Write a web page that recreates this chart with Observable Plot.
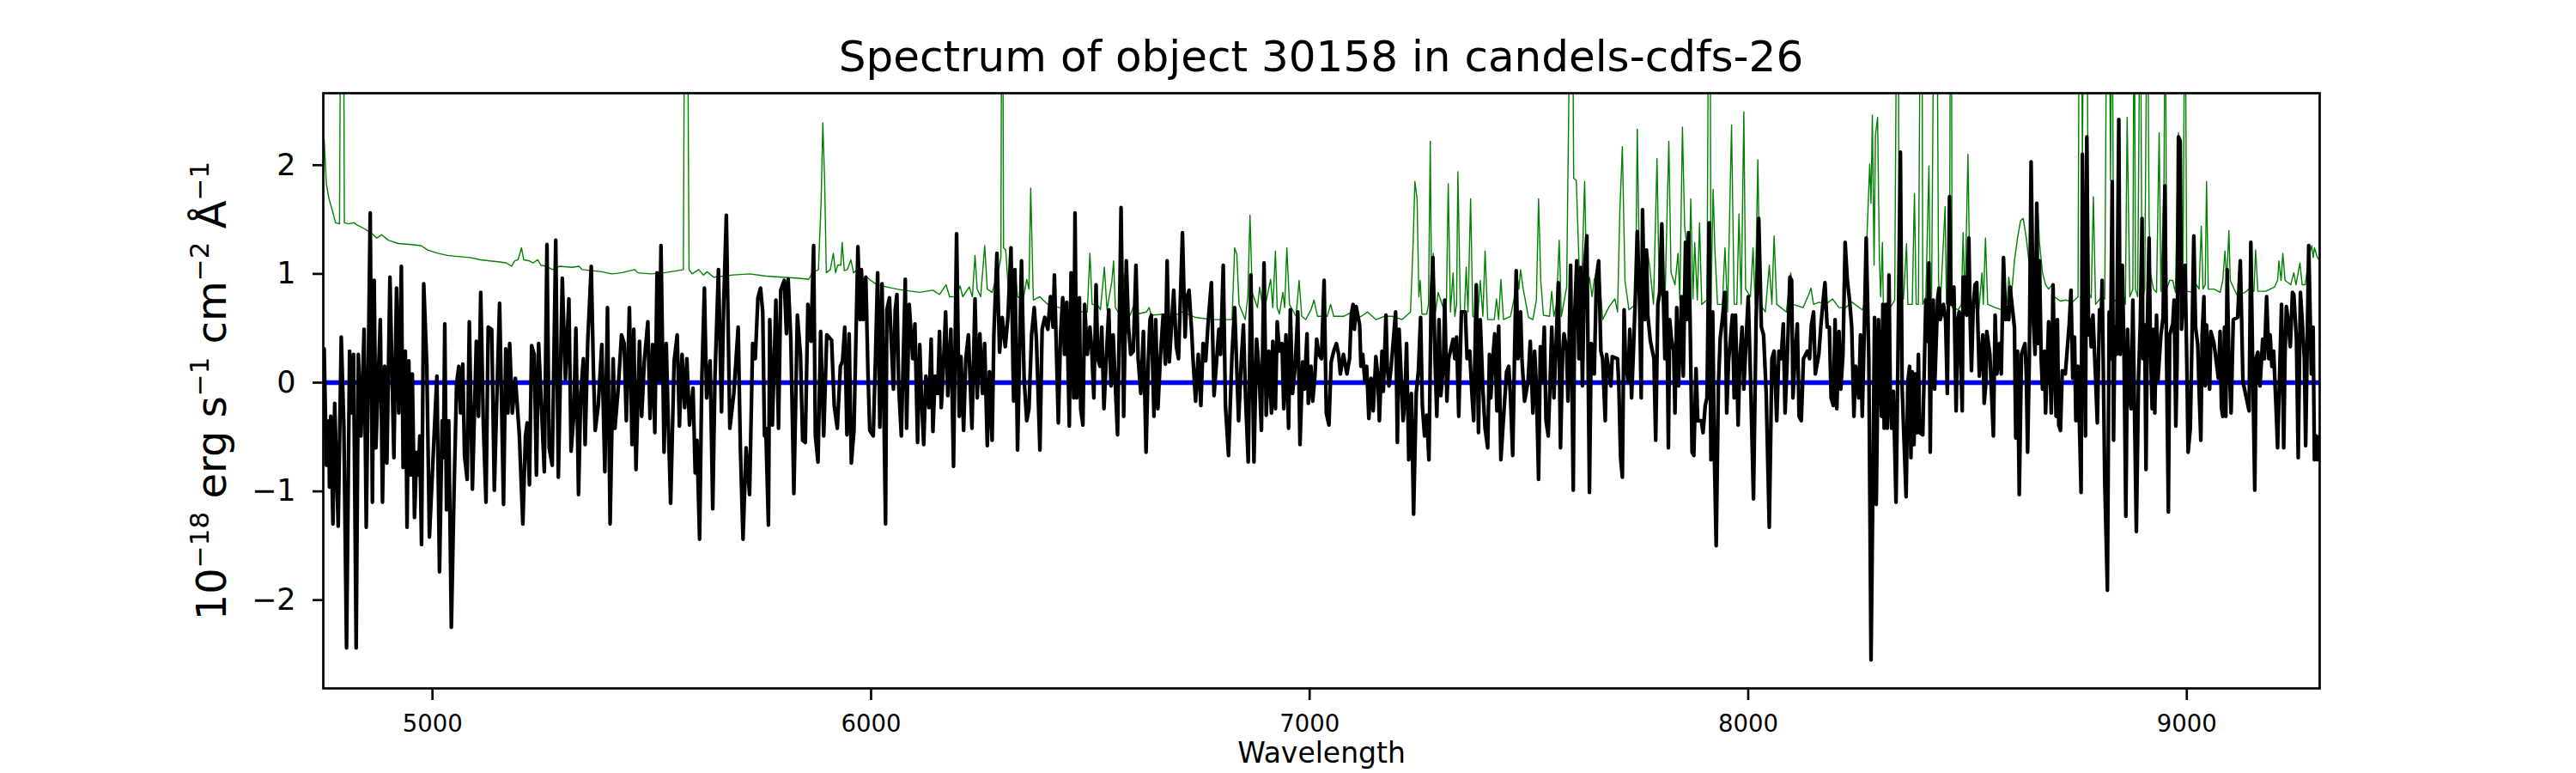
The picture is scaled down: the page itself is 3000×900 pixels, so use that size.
<!DOCTYPE html>
<html><head><meta charset="utf-8">
<script src="https://cdn.jsdelivr.net/npm/d3@7"></script>
<script src="https://cdn.jsdelivr.net/npm/@observablehq/plot@0.6"></script>
<style>
html,body{margin:0;padding:0;background:#fff;}
#fig{position:relative;width:3000px;height:900px;font-family:"DejaVu Sans";overflow:hidden;}
#title{position:absolute;left:376px;width:2325px;top:41px;text-align:center;font-size:50px;line-height:50px;color:#000;white-space:nowrap;}
#chart{position:absolute;left:0;top:0;}
</style></head><body>
<div id="fig"><div id="chart"></div><div id="title">Spectrum of object 30158 in candels-cdfs-26</div></div>
<script>
// ---- data: [wavelength (Å), flux (1e-18 erg/s/cm2/Å)] ----
const xTicks = [5000, 6000, 7000, 8000, 9000];
const yTicks = [-2, -1, 0, 1, 2];
const modelLevel = [0];

const blackA = [[4753,0.31],[4758,-0.76],[4764,-0.35],[4765,-0.96],[4768,-0.31],[4773,-1.30],[4777,-0.19],[4785,-1.32],[4792,0.42],[4798,-0.42],[4804,-2.44],[4811,0.29],[4816,-0.28],[4820,0.26],[4826,-2.44],[4831,0.26],[4837,-0.49],[4844,0.49],[4849,-1.33],[4858,1.56],[4863,-1.10],[4867,0.94],[4871,-0.60],[4881,0.58],[4886,-1.10],[4891,0.15],[4896,-0.74],[4903,0.97],[4912,-0.69],[4918,0.87],[4923,-0.28],[4929,1.07],[4933,-0.78],[4938,0.29],[4942,-1.33],[4946,0.20],[4950,-0.85],[4954,0.08],[4959,-1.24],[4964,-0.64],[4968,-0.85],[4971,-0.49],[4975,-1.49],[4980,0.91],[4987,0.17],[4993,-1.42],[5010,0.06],[5016,-1.74],[5022,-0.35],[5025,-0.69],[5028,0.54],[5032,-1.17],[5037,-0.35],[5043,-2.25],[5049,-1.03],[5055,-0.01],[5060,0.15],[5064,-0.28],[5069,0.17],[5073,-0.67],[5079,-0.89],[5084,0.56],[5091,-0.98],[5100,0.38],[5105,-0.31],[5110,0.83],[5116,-0.39],[5122,-1.10],[5127,0.51],[5135,0.49],[5141,-0.99],[5146,-0.24],[5153,0.73],[5162,-1.12],[5167,0.31],[5172,-0.28],[5176,0.36],[5182,-0.28],[5189,0.04],[5198,-0.48],[5206,-1.30],[5212,-0.49],[5216,-0.37],[5221,-0.94],[5226,0.34],[5232,0.26],[5237,-0.85],[5242,0.36],[5249,-0.28],[5255,-0.82],[5261,1.27],[5266,-0.60],[5273,-0.76],[5281,1.31],[5287,-0.87],[5296,0.96],[5303,0.03],[5311,0.77],[5316,-0.63],[5322,-0.31],[5327,0.50],[5333,-1.03],[5338,-0.10],[5344,0.22],[5348,-0.57],[5354,0.38],[5362,1.07],[5367,0.10],[5371,-0.44],[5378,-0.21],[5386,0.35],[5393,-0.82],[5399,0.69],[5405,-1.30],[5412,0.22],[5416,-0.42],[5423,-0.08],[5431,0.44],[5437,0.36],[5442,-0.35],[5449,0.69],[5455,-0.57],[5459,0.49],[5464,-0.80],[5472,0.38],[5477,-0.31],[5483,0.20],[5491,0.56],[5496,-0.33],[5502,0.35],[5507,-0.46],[5512,1.01],[5517,0.01],[5521,1.26],[5528,-0.64],[5533,0.36],[5537,-0.28],[5543,-1.11],[5551,0.20],[5558,0.44],[5563,-0.40],[5569,0.26],[5575,-0.23],[5580,0.22],[5586,-0.39],[5594,-0.05],[5599,-0.83],[5603,-0.53],[5609,-1.44],[5614,0.01],[5620,0.87],[5625,-0.14],[5633,0.20],[5639,-1.16],[5644,0.04],[5652,1.04],[5659,-0.27],[5664,0.72],[5670,1.54],[5678,-0.42],[5687,-0.10],[5697,0.51],[5702,-0.60],[5708,-1.44],[5715,-0.60],[5723,-1.03],[5730,0.36],[5736,0.22],[5742,0.78],[5748,0.87],[5753,0.65],[5757,-0.49],[5760,-0.42],[5766,-1.31],[5769,0.58],[5775,-0.39],[5783,0.76],[5789,-0.42],[5794,0.85],[5802,0.94],[5807,0.45],[5811,0.95],[5817,0.40],[5824,-1.02],[5832,0.62],[5839,0.26],[5844,-0.53],[5850,-0.55],[5856,0.72],[5863,0.38],[5869,1.26],[5873,-0.49],[5879,-0.73],[5885,0.47],[5892,-0.49],[5899,0.44],[5910,0.39],[5916,-0.21],[5923,-0.42]];

const blackB = [[5930,0.15],[5935,0.20],[5940,0.51],[5945,-0.48],[5950,0.45],[5955,-0.74],[5961,-0.44],[5970,1.25],[5975,0.58],[5978,1.04],[5982,0.58],[5988,0.97],[5993,0.08],[5997,-0.44],[6005,-0.49],[6010,0.22],[6015,1.01],[6020,-0.41],[6025,0.91],[6033,-1.30],[6036,0.67],[6042,0.78],[6046,0.38],[6051,-0.06],[6055,0.67],[6059,0.81],[6063,-0.03],[6069,-0.49],[6078,0.95],[6081,-0.42],[6087,0.72],[6095,0.22],[6100,0.54],[6106,-0.55],[6111,0.35],[6115,-0.14],[6120,-0.57],[6125,0.06],[6132,-0.23],[6137,0.40],[6141,-0.45],[6146,0.06],[6152,-0.10],[6156,0.47],[6160,-0.23],[6164,0.06],[6170,0.65],[6175,-0.12],[6182,0.49],[6188,-0.77],[6195,1.37],[6201,-0.31],[6205,0.24],[6211,-0.44],[6216,0.22],[6222,0.44],[6230,-0.42],[6237,0.77],[6242,-0.14],[6248,0.45],[6254,-0.10],[6259,0.36],[6265,-0.58],[6270,0.10],[6276,-0.53],[6280,0.44],[6287,1.19],[6293,0.28],[6299,0.60],[6306,0.33],[6312,0.60],[6319,1.24],[6325,-0.17],[6328,1.04],[6334,-0.62],[6340,0.56],[6343,1.12],[6349,0.03],[6355,-0.35],[6360,-0.24],[6366,0.44],[6372,0.69],[6377,0.40],[6385,-0.62],[6390,0.49],[6396,0.60],[6403,0.49],[6409,0.79],[6415,0.51],[6418,0.99],[6427,-0.37],[6432,0.44],[6437,0.78],[6441,0.26],[6446,0.74],[6452,-0.40],[6456,1.01],[6462,-0.14],[6465,1.56],[6469,-0.14],[6475,0.78],[6478,-0.24],[6483,-0.39],[6487,0.72],[6493,0.26],[6499,0.51],[6503,0.31],[6508,-0.14],[6513,0.90],[6517,0.22],[6522,0.15],[6526,0.51],[6531,-0.24],[6537,0.28],[6542,0.67],[6547,-0.03],[6552,0.44],[6557,-0.03],[6562,-0.48],[6567,0.79],[6570,1.61],[6576,-0.31],[6582,1.12],[6587,0.51],[6592,0.26],[6598,0.29],[6604,1.08],[6609,0.22],[6615,-0.10],[6621,0.47],[6627,-0.64],[6632,0.19],[6636,0.58],[6639,0.62],[6645,-0.31],[6649,0.58],[6654,-0.24],[6660,0.26],[6666,0.62],[6671,0.17],[6675,1.12],[6680,0.19],[6690,0.85],[6696,0.33],[6701,0.22],[6710,1.38],[6716,0.42],[6720,0.78],[6725,0.85],[6731,0.47],[6734,0.22],[6740,-0.17],[6746,0.26],[6752,-0.21],[6757,0.36],[6763,0.20],[6769,0.58],[6776,0.92],[6782,-0.12],[6793,0.49],[6797,0.26],[6803,1.08],[6808,-0.21],[6815,-0.67],[6823,0.26],[6829,0.69],[6838,-0.35],[6844,0.19],[6849,0.53],[6854,-0.15],[6860,-0.73],[6866,0.99],[6873,-0.73],[6879,0.40],[6884,0.15],[6890,-0.44],[6896,1.10],[6901,-0.30],[6907,0.29],[6913,-0.28],[6916,0.38],[6922,-0.24],[6926,0.56],[6931,0.29],[6937,0.36],[6941,-0.24],[6946,0.44],[6952,-0.42],[6956,0.67],[6961,-0.10],[6967,0.15],[6973,0.65],[6978,-0.57],[6984,0.19],[6988,-0.06],[6994,0.45],[6997,-0.19],[7003,0.15],[7007,-0.17],[7012,0.06],[7016,0.40],[7021,0.26],[7027,0.22],[7033,0.94],[7038,-0.28],[7044,-0.39],[7049,0.19],[7055,0.29],[7061,0.36],[7066,0.26],[7070,0.08],[7077,0.26],[7085,0.08],[7091,0.22],[7095,0.63]];

const blackC = [[7099,0.72],[7102,0.49],[7106,0.70],[7114,0.53],[7117,0.15],[7121,0.26],[7126,0.01],[7130,0.15],[7135,-0.33],[7140,0.04],[7145,-0.26],[7151,0.24],[7155,0.08],[7159,-0.35],[7165,0.29],[7168,-0.08],[7174,0.62],[7177,0.15],[7181,-0.03],[7186,0.15],[7196,0.65],[7200,-0.55],[7204,0.49],[7213,-0.35],[7217,-0.17],[7221,0.36],[7226,-0.71],[7232,-0.10],[7237,-1.21],[7243,-0.10],[7248,0.11],[7253,0.60],[7257,-0.21],[7262,-0.49],[7267,-0.30],[7272,-0.71],[7277,0.76],[7281,1.15],[7286,0.20],[7290,-0.31],[7295,0.58],[7299,-0.12],[7305,0.15],[7308,0.76],[7313,-0.17],[7317,0.22],[7327,0.40],[7331,0.22],[7335,0.42],[7340,-0.31],[7346,0.65],[7355,0.65],[7359,0.22],[7365,0.29],[7370,-0.10],[7374,-0.35],[7380,0.90],[7385,-0.46],[7389,0.58],[7395,-0.06],[7400,-0.42],[7406,-0.60],[7410,0.26],[7413,-0.14],[7419,0.29],[7422,0.45],[7427,-0.26],[7431,0.52],[7436,-0.71],[7441,-0.39],[7449,0.10],[7454,0.15],[7458,-0.14],[7463,-0.67],[7467,0.22],[7471,1.03],[7475,0.22],[7481,0.65],[7484,0.22],[7490,-0.17],[7498,0.01],[7503,0.38],[7509,-0.28],[7513,0.29],[7517,-0.03],[7522,-0.89],[7526,0.33],[7530,0.01],[7535,0.51],[7539,-0.35],[7544,-0.49],[7548,-0.03],[7552,0.51],[7557,-0.14],[7562,0.36],[7567,0.92],[7572,-0.60],[7577,0.29],[7580,0.45],[7586,0.29],[7589,-0.17],[7595,1.08],[7601,-0.99],[7604,0.58],[7609,1.12],[7614,0.22],[7618,1.06],[7622,-0.03],[7627,1.08],[7632,1.35],[7638,-1.01],[7642,0.36],[7649,0.08],[7654,0.97],[7659,1.12],[7664,0.29],[7668,0.22],[7674,-0.35],[7677,0.26],[7687,-0.03],[7690,0.24],[7702,0.22],[7705,-0.03],[7709,-0.69],[7713,-0.87],[7717,0.67],[7720,0.22],[7726,0.01],[7730,0.49],[7734,-0.14],[7738,0.26],[7743,0.83],[7747,1.39],[7752,0.79],[7756,-0.14],[7759,1.59],[7764,0.58],[7768,1.22],[7771,0.62],[7777,0.38],[7785,0.22],[7789,-0.53],[7794,0.72],[7798,0.83],[7803,1.46],[7807,0.72],[7810,0.22],[7814,0.83],[7818,-0.60],[7821,0.58],[7825,0.40],[7830,0.29],[7833,-0.28],[7837,0.69],[7841,-0.03],[7845,0.40],[7848,0.79],[7852,0.06],[7857,1.29],[7860,0.58],[7864,1.38],[7868,0.44],[7872,-0.64],[7876,-0.67],[7881,0.13],[7885,-0.35],[7893,-0.35],[7897,-0.46],[7902,-0.21],[7906,-0.14],[7911,1.47],[7915,-0.71],[7919,0.65],[7923,-0.71],[7927,-1.50],[7932,-0.03],[7936,0.40],[7941,0.58],[7947,0.83],[7951,-0.28],[7955,0.19],[7964,0.62],[7968,-0.14],[7971,0.62],[7977,-0.39],[7981,0.22],[7986,0.51],[7990,-0.06],[7994,0.29],[8000,0.79],[8005,0.08],[8012,-1.07],[8018,0.58],[8024,1.51],[8030,0.51],[8035,0.44],[8041,-0.10],[8048,-1.33],[8054,0.22],[8059,0.29],[8065,-0.35],[8070,0.29],[8075,0.22],[8080,0.54],[8084,-0.28],[8089,0.22],[8095,0.97],[8099,0.94],[8102,-0.14],[8108,0.33],[8112,0.54],[8116,-0.31],[8121,-0.35],[8126,0.22],[8135,0.29],[8140,0.22],[8144,0.53],[8149,0.65],[8153,0.08],[8161,0.26],[8166,0.54],[8171,0.76],[8175,0.92],[8180,0.51],[8185,0.51],[8189,-0.14],[8194,-0.21],[8198,0.58],[8202,-0.24],[8207,0.47],[8211,-0.06],[8216,0.26],[8221,1.29],[8226,0.94],[8231,0.76],[8236,0.51],[8241,-0.31],[8245,0.15],[8252,-0.14],[8256,0.44],[8260,-0.31],[8264,0.36],[8269,1.33]];

const blackD = [[8275,0.22],[8280,-2.55],[8285,-0.67],[8288,0.60],[8292,-1.12],[8297,0.58],[8304,-0.31],[8307,0.72],[8310,-0.42],[8314,0.72],[8317,-0.42],[8321,0.99],[8324,-0.14],[8327,-0.42],[8331,-0.08],[8337,-1.10],[8341,0.10],[8347,2.12],[8351,-0.06],[8360,-1.05],[8364,0.01],[8368,0.15],[8371,-0.69],[8374,0.10],[8378,-0.57],[8381,0.08],[8385,-0.46],[8388,0.26],[8391,-0.46],[8398,-0.48],[8405,0.76],[8408,0.38],[8412,1.10],[8415,-0.64],[8418,0.58],[8422,0.76],[8425,-0.06],[8432,0.78],[8435,0.87],[8438,0.58],[8445,0.72],[8450,0.58],[8454,-0.10],[8459,1.71],[8462,0.72],[8469,0.88],[8474,-0.26],[8478,0.58],[8481,0.65],[8488,-0.26],[8490,0.97],[8494,0.97],[8498,0.62],[8503,1.33],[8506,0.58],[8509,0.11],[8513,0.69],[8517,0.90],[8521,0.92],[8524,0.47],[8527,0.06],[8535,0.44],[8538,-0.19],[8542,0.01],[8544,0.47],[8551,0.26],[8559,-0.49],[8563,0.62],[8567,0.08],[8573,0.36],[8577,0.08],[8582,1.15],[8587,0.58],[8590,0.69],[8594,0.58],[8597,0.88],[8607,0.51],[8610,-0.51],[8614,0.29],[8618,-1.03],[8623,0.26],[8631,0.36],[8634,0.08],[8637,-0.64],[8641,0.24],[8645,2.03],[8650,0.58],[8654,0.26],[8658,1.65],[8661,0.36],[8664,1.12],[8668,0.22],[8671,-0.06],[8675,0.29],[8678,-0.28],[8685,0.56],[8688,0.15],[8691,-0.28],[8695,0.90],[8698,0.26],[8702,-0.31],[8705,0.58],[8708,-0.39],[8712,-0.44],[8716,0.11],[8723,0.08],[8732,0.54],[8736,0.85],[8740,0.04],[8744,0.42],[8747,-0.35],[8752,0.15],[8755,-0.35],[8759,-1.01],[8762,2.10],[8765,0.90],[8769,-0.49],[8772,2.26],[8776,0.44],[8779,0.58],[8782,0.33],[8786,0.62],[8792,0.04],[8796,-0.37],[8801,0.67],[8804,0.47],[8807,0.94],[8813,-0.92],[8819,-1.91],[8823,0.65],[8826,0.22],[8830,1.85],[8833,-0.53],[8836,0.51],[8840,0.26],[8845,2.42],[8848,0.26],[8853,1.08],[8857,0.22],[8861,-1.23],[8865,0.49],[8870,-0.14],[8873,-0.24],[8877,0.76],[8885,-1.37],[8890,0.06],[8894,0.54],[8898,1.51],[8900,0.22],[8904,0.53],[8907,-0.80],[8910,0.51],[8914,1.33],[8917,0.36],[8921,-0.24],[8924,0.49],[8927,-0.28],[8931,0.62],[8934,0.01],[8941,0.44],[8946,0.60],[8950,1.81],[8954,0.19],[8958,-1.19],[8961,0.44],[8968,0.54],[8971,0.76],[8975,-0.40],[8978,0.22],[8981,2.26],[8985,2.22],[8988,0.49],[8996,1.08],[9000,0.19],[9003,-0.64],[9008,-0.42],[9012,0.44],[9016,1.35],[9020,0.51],[9025,0.35],[9028,-0.06],[9032,-0.53],[9035,0.44],[9039,0.79],[9042,-0.03],[9045,0.53],[9052,-0.06],[9055,0.47],[9062,0.36],[9072,0.04],[9076,0.47],[9079,-0.23],[9082,-0.31],[9086,0.51],[9089,-0.31],[9092,1.04],[9096,0.22],[9101,-0.28],[9106,0.58],[9116,0.60],[9122,1.12],[9125,0.58],[9128,0.01],[9142,-0.26],[9146,1.29],[9150,0.22],[9155,-0.99],[9158,0.22],[9162,0.28],[9167,-0.03],[9173,0.40],[9177,0.22],[9182,0.79],[9187,0.22],[9190,0.44],[9194,0.15],[9198,0.29],[9204,-0.28],[9207,-0.60],[9216,0.72],[9221,-0.60],[9224,0.26],[9227,0.70],[9231,0.58],[9236,0.33],[9241,0.83],[9244,0.81],[9250,0.40],[9254,-0.69],[9259,0.83],[9263,0.58],[9268,0.22],[9271,-0.58],[9278,1.26],[9284,0.08],[9288,0.51],[9291,-0.71],[9295,-0.49],[9298,-0.71],[9303,-0.49]];

const greenA = [[4753,2.24],[4758,1.83],[4764,1.69],[4772,1.58],[4779,1.47],[4788,1.46],[4791,4],[4797,4],[4799,1.47],[4809,1.46],[4821,1.47],[4828,1.45],[4847,1.41],[4862,1.37],[4873,1.33],[4884,1.36],[4899,1.31],[4922,1.28],[4952,1.27],[4974,1.26],[4989,1.22],[5012,1.19],[5034,1.17],[5057,1.16],[5086,1.15],[5109,1.13],[5131,1.12],[5154,1.11],[5169,1.10],[5180,1.07],[5188,1.12],[5195,1.13],[5203,1.24],[5208,1.13],[5221,1.12],[5229,1.10],[5240,1.13],[5247,1.08],[5259,1.07],[5274,1.04],[5289,1.07],[5319,1.06],[5334,1.07],[5341,1.04],[5364,1.03],[5386,1.02],[5409,1.00],[5431,1.01],[5461,1.04],[5468,1.01],[5498,1.00],[5528,1.01],[5558,1.03],[5572,1.04],[5575,4],[5581,4],[5585,1.04],[5592,1.00],[5607,1.04],[5618,0.99],[5626,1.02],[5641,0.97],[5686,0.99],[5723,1.00],[5761,0.98],[5798,0.97],[5836,0.96],[5858,0.95],[5866,1.01],[5880,1.04],[5886,1.65],[5890,2.39],[5894,1.88],[5898,1.01],[5907,1.04],[5914,1.19],[5919,1.01],[5924,1.08]];

const greenB = [[5931,1.08],[5934,1.29],[5939,1.03],[5946,1.04],[5954,1.13],[5960,1.01],[5969,1.04],[5980,0.95],[5991,0.97],[5999,0.94],[6014,0.90],[6036,0.88],[6059,0.86],[6074,0.85],[6111,0.83],[6141,0.85],[6156,0.81],[6171,0.90],[6179,0.79],[6194,0.79],[6203,0.89],[6209,0.79],[6224,0.88],[6231,0.79],[6237,1.17],[6242,0.86],[6250,0.79],[6259,1.26],[6265,0.86],[6276,0.83],[6291,1.04],[6296,1.15],[6298,4],[6300,4],[6302,1.24],[6307,1.22],[6313,0.85],[6321,0.76],[6328,1.04],[6334,0.79],[6347,0.77],[6355,0.95],[6360,0.86],[6364,1.79],[6370,0.76],[6385,0.79],[6392,0.76],[6403,0.72],[6418,0.70],[6430,0.69],[6448,0.67],[6478,0.65],[6493,0.65],[6499,1.19],[6504,0.72],[6516,0.72],[6523,0.67],[6532,1.06],[6538,0.67],[6549,0.93],[6553,1.12],[6557,0.69],[6568,0.62],[6576,1.00],[6583,0.67],[6591,0.62],[6598,0.70],[6606,0.63],[6628,0.65],[6634,0.69],[6639,0.62],[6666,0.63],[6688,0.61],[6710,0.65],[6740,0.60],[6778,0.58],[6823,0.58],[6829,1.24],[6834,1.18],[6839,0.72],[6853,0.58],[6859,0.79],[6864,1.54],[6869,0.83],[6881,0.69],[6886,0.88],[6892,0.72],[6898,0.69],[6911,0.95],[6916,0.69],[6922,1.21],[6926,0.69],[6931,0.63],[6939,0.83],[6943,0.69],[6948,1.24],[6954,0.72],[6969,0.61],[6976,0.94],[6982,0.61],[6991,0.58],[7003,0.67],[7010,0.76],[7018,0.61],[7040,0.61],[7048,0.72],[7055,0.61],[7077,0.61],[7098,0.65]];

const greenC = [[7114,0.60],[7132,0.65],[7151,0.58],[7170,0.61],[7189,0.61],[7211,0.58],[7230,0.65],[7236,1.29],[7240,1.85],[7245,1.69],[7249,0.79],[7252,0.94],[7256,0.63],[7267,0.63],[7271,0.72],[7275,2.22],[7278,0.83],[7282,1.19],[7287,0.65],[7293,0.83],[7308,0.65],[7312,0.76],[7316,1.83],[7321,0.65],[7327,1.01],[7331,0.61],[7335,0.72],[7338,1.94],[7344,0.61],[7353,0.65],[7357,1.06],[7361,0.65],[7367,1.69],[7372,0.61],[7383,0.58],[7389,0.94],[7395,0.61],[7400,1.21],[7406,0.58],[7421,0.58],[7426,0.77],[7431,0.58],[7436,0.95],[7442,0.58],[7458,0.61],[7466,0.77],[7472,1.03],[7477,0.86],[7481,1.04],[7487,0.86],[7499,0.60],[7509,0.58],[7517,0.76],[7522,1.69],[7527,0.94],[7533,0.62],[7547,0.61],[7552,0.84],[7557,0.61],[7563,0.72],[7569,1.31],[7574,0.61],[7586,0.88],[7595,4],[7599,4],[7602,1.88],[7608,1.86],[7614,1.12],[7619,0.72],[7627,1.85],[7632,0.83],[7638,0.97],[7644,0.79],[7649,0.95],[7660,1.06],[7668,0.58],[7683,0.70],[7696,0.77],[7702,0.65],[7707,1.54],[7713,2.17],[7719,0.94],[7728,0.67],[7743,0.72],[7747,2.33],[7752,1.01],[7758,0.72],[7765,0.76],[7771,1.19],[7775,1.08],[7784,0.72],[7792,2.06],[7797,0.86],[7810,0.72],[7819,2.22],[7824,1.01],[7833,0.90],[7840,1.19],[7844,0.76],[7850,2.35],[7855,1.44],[7859,1.29],[7864,0.72],[7869,1.69],[7874,0.77],[7878,1.29],[7884,0.76],[7889,1.47],[7894,0.72],[7906,0.76],[7910,4],[7913,4],[7915,0.72],[7920,1.78],[7924,1.22],[7930,0.72],[7941,0.72],[7947,1.24],[7953,0.65],[7962,2.37],[7968,0.72],[7974,0.72],[7979,1.55],[7984,0.72],[7990,2.49],[7994,0.86],[8005,0.79],[8011,1.24],[8016,0.72],[8022,2.05],[8027,0.72],[8039,0.65],[8048,1.08],[8054,0.72],[8059,1.35],[8065,0.72],[8087,0.65],[8097,1.01],[8102,0.72],[8125,0.69],[8138,0.81],[8143,0.87],[8149,0.72],[8162,0.74],[8177,0.72],[8192,0.77],[8207,0.69],[8222,0.69],[8237,0.74],[8260,0.67],[8266,0.72],[8271,1.37]];

const greenD = [[8277,2.01],[8280,1.65],[8283,2.46],[8287,1.08],[8290,2.27],[8295,2.44],[8299,1.15],[8302,0.79],[8306,1.29],[8308,0.72],[8321,0.67],[8334,0.76],[8339,4],[8342,4],[8344,0.76],[8354,0.77],[8361,1.28],[8364,0.72],[8374,0.72],[8379,1.74],[8383,0.72],[8388,0.72],[8393,4],[8396,4],[8398,0.72],[8405,0.79],[8412,1.99],[8415,0.79],[8418,0.72],[8424,4],[8430,4],[8434,0.94],[8438,0.72],[8449,1.62],[8452,0.72],[8459,0.79],[8461,4],[8463,4],[8465,0.69],[8479,0.67],[8486,0.72],[8490,1.38],[8494,0.72],[8501,2.10],[8506,0.72],[8519,0.69],[8526,0.67],[8533,1.01],[8536,0.72],[8541,1.33],[8546,0.72],[8563,0.69],[8577,0.67],[8590,0.72],[8594,0.97],[8600,0.79],[8607,1.12],[8614,1.33],[8621,1.49],[8627,1.51],[8634,1.33],[8641,1.08],[8647,0.94],[8654,1.04],[8661,1.55],[8664,1.29],[8671,1.01],[8678,0.90],[8685,0.86],[8693,0.90],[8698,0.79],[8712,0.75],[8725,0.76],[8739,0.74],[8752,0.79],[8755,4],[8759,4],[8762,2.00],[8765,4],[8772,4],[8776,0.83],[8782,0.78],[8787,1.71],[8792,0.72],[8806,0.79],[8813,0.77],[8818,4],[8823,4],[8826,1.86],[8830,4],[8833,0.74],[8846,0.79],[8853,0.86],[8860,0.72],[8864,2.44],[8870,0.79],[8877,0.86],[8880,4],[8883,0.86],[8888,0.79],[8894,4],[8897,1.51],[8900,0.77],[8904,0.86],[8910,4],[8914,1.51],[8917,1.01],[8924,0.86],[8931,0.83],[8937,2.30],[8941,0.84],[8948,1.83],[8951,4],[8954,0.86],[8961,0.94],[8968,0.94],[8974,0.83],[8981,2.30],[8985,0.94],[8991,0.86],[8996,4],[9000,0.84],[9015,0.83],[9022,0.90],[9028,0.86],[9033,1.44],[9037,0.86],[9042,0.90],[9045,1.85],[9049,0.86],[9062,0.86],[9076,0.83],[9082,0.94],[9087,1.21],[9091,0.94],[9096,1.40],[9099,0.94],[9116,0.79],[9136,0.84],[9146,0.88],[9153,0.84],[9157,1.22],[9162,0.84],[9180,0.84],[9200,0.88],[9207,0.94],[9210,1.12],[9215,0.94],[9219,1.19],[9224,0.94],[9237,0.90],[9244,1.01],[9249,0.90],[9258,1.10],[9263,0.90],[9270,0.90],[9278,1.15],[9285,1.26],[9288,1.15],[9291,1.24],[9298,1.15],[9303,1.12]];

const toRows = arr => arr.map(([w, f]) => ({w, f}));
const spectrum = [blackA, blackB, blackC, blackD].flatMap(toRows);
const noise = [greenA, greenB, greenC, greenD].flatMap(toRows);

const chart = Plot.plot({
  width: 3000,
  height: 900,
  marginLeft: 376,
  marginRight: 299,
  marginTop: 108,
  marginBottom: 99,
  style: {fontFamily: "DejaVu Sans", background: "white", color: "black", overflow: "visible"},
  x: {domain: [4751, 9303]},
  y: {domain: [-2.812, 2.662]},
  marks: [
    Plot.line(noise, {x: "w", y: "f", stroke: "#008000", strokeWidth: 1.4, clip: true}),
    Plot.ruleY(modelLevel, {stroke: "#0000ff", strokeWidth: 5.5}),
    Plot.line(spectrum, {x: "w", y: "f", stroke: "#000000", strokeWidth: 4.3, clip: true, strokeLinejoin: "round"}),
    Plot.frame({stroke: "#000000", strokeWidth: 2.7}),
    Plot.axisX({ticks: xTicks, tickSize: 14, tickPadding: 17, fontSize: 27.5, strokeWidth: 2.7,
      tickFormat: d => String(d), label: "Wavelength", labelAnchor: "center", labelOffset: 86, labelArrow: "none"}),
    Plot.axisY({ticks: yTicks, tickSize: 12, tickPadding: 20, fontSize: 35, strokeWidth: 2.7,
      tickFormat: d3.format("d"), label: "y", labelAnchor: "center", labelOffset: 148, labelArrow: "none"})
  ]
});
document.getElementById("chart").appendChild(chart);

// label styling (matplotlib-like mathtext superscripts)
const svg = d3.select(chart);
svg.selectAll('g[aria-label="x-axis label"]').attr("font-size", 33);
const yl = svg.selectAll('g[aria-label="y-axis label"]').attr("font-size", 48);
const yText = yl.select("text");
yText.text(null);
const parts = [["10", false], ["\u221218", true], [" erg s", false], ["\u22121", true], [" cm", false], ["\u22122", true], [" \u00C5", false], ["\u22121", true]];
let raised = false;
for (const [s, sup] of parts) {
  const ts = yText.append("tspan").text(s);
  if (sup) {
    ts.attr("font-size", 31);
    if (!raised) { ts.attr("dy", -20); raised = true; }
  } else if (raised) { ts.attr("dy", 20); raised = false; }
}
</script>
</body></html>
